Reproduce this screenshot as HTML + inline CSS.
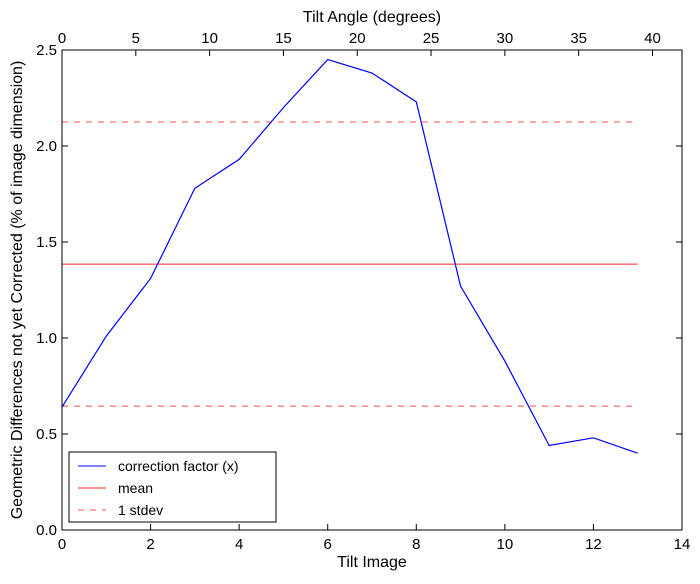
<!DOCTYPE html>
<html><head><meta charset="utf-8"><style>
body{margin:0;background:#fff;font-family:"Liberation Sans",sans-serif;}
svg text{font-family:"Liberation Sans",sans-serif;fill:#000;}
</style></head><body>
<svg id="chart" width="700" height="579" xmlns="http://www.w3.org/2000/svg">
<rect x="0" y="0" width="700" height="579" fill="#fff"/>
<g id="series"></g>
<rect x="62" y="50" width="620" height="480" fill="none" stroke="#000" stroke-width="1"/>
<g id="axes"></g>
<text x="372" y="567" font-size="16" text-anchor="middle">Tilt Image</text>
<text x="372" y="22" font-size="16" text-anchor="middle">Tilt Angle (degrees)</text>
<text transform="translate(22,290) rotate(-90)" font-size="16" text-anchor="middle">Geometric Differences not yet Corrected (% of image dimension)</text>
<g>
<rect x="69" y="452" width="207" height="70" fill="#fff" stroke="#000" stroke-width="1"/>
<line x1="78" y1="466" x2="106" y2="466" stroke="#0000ff"/>
<text x="118" y="471" font-size="14">correction factor (x)</text>
<line x1="78" y1="488" x2="106" y2="488" stroke="#ff0000" stroke-opacity="0.85"/>
<text x="118" y="493" font-size="14">mean</text>
<line x1="78" y1="510" x2="106" y2="510" stroke="#ff0000" stroke-opacity="0.7" stroke-dasharray="6,6"/>
<text x="118" y="515" font-size="14">1 stdev</text>
</g>
</svg>
<script>
const tiltImages=[0,1,2,3,4,5,6,7,8,9,10,11,12,13];
const correctionValues=[0.64,1.01,1.31,1.78,1.93,2.20,2.45,2.38,2.23,1.27,0.88,0.44,0.48,0.40];
const meanValue=1.385;
const stdevUpper=2.125;
const stdevLower=0.645;
const xTicks=[0,2,4,6,8,10,12,14];
const yTicks=[0.0,0.5,1.0,1.5,2.0,2.5];
const topTicks=[0,5,10,15,20,25,30,35,40];

const L=62,R=682,T=50,B=530;
const xs=v=>L+(v/14)*(R-L);
const ys=v=>B-(v/2.5)*(B-T);
const xt=v=>xs(v/3);
const NS="http://www.w3.org/2000/svg";
const axes=document.getElementById('axes');
const series=document.getElementById('series');
function mk(tag,attrs,parent){const e=document.createElementNS(NS,tag);for(const k in attrs)e.setAttribute(k,attrs[k]);parent.appendChild(e);return e;}

xTicks.forEach(v=>{
  const x=xs(v);
  const t1=mk('line',{x1:x,y1:B,x2:x,y2:B-6,stroke:'#000'},axes);
  
  
  const lb=mk('text',{x:x,y:B+19,'font-size':15,'text-anchor':'middle'},axes);
  lb.textContent=v;
  
  
});
topTicks.forEach(v=>{
  const x=xt(v);
  const t1=mk('line',{x1:x,y1:T,x2:x,y2:T+6,stroke:'#000'},axes);
  
  
  const lb=mk('text',{x:x,y:T-7,'font-size':15,'text-anchor':'middle'},axes);
  lb.textContent=v;
  
  
});
yTicks.forEach(v=>{
  const y=ys(v);
  const t1=mk('line',{x1:L,y1:y,x2:L+6,y2:y,stroke:'#000'},axes);
  
  
  const t2=mk('line',{x1:R,y1:y,x2:R-6,y2:y,stroke:'#000'},axes);
  
  
  const lb=mk('text',{x:L-5,y:y+5,'font-size':15,'text-anchor':'end'},axes);
  lb.textContent=v.toFixed(1);
  
  
});

const x0=xs(tiltImages[0]),x1=xs(tiltImages[tiltImages.length-1]);
const up=mk('line',{x1:x0,y1:ys(stdevUpper),x2:x1,y2:ys(stdevUpper),stroke:'#ff0000','stroke-opacity':0.7,'stroke-dasharray':'6,6'},series);


const lo=mk('line',{x1:x0,y1:ys(stdevLower),x2:x1,y2:ys(stdevLower),stroke:'#ff0000','stroke-opacity':0.7,'stroke-dasharray':'6,6'},series);


const mn=mk('line',{x1:x0,y1:ys(meanValue),x2:x1,y2:ys(meanValue),stroke:'#ff0000','stroke-opacity':0.85},series);


const pts=tiltImages.map((t,i)=>xs(t)+','+ys(correctionValues[i])).join(' ');
const pl=mk('polyline',{points:pts,fill:'none',stroke:'#0000ff','stroke-width':1.2},series);


</script>
</body></html>
